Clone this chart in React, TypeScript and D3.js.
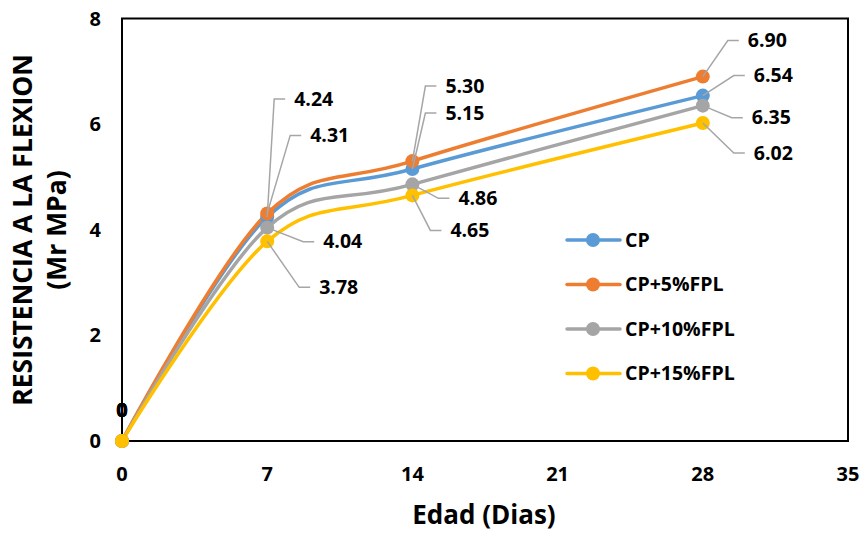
import React, { useEffect } from "react";
import * as d3 from "d3";

const days = [0, 7, 14, 28];
const seriesNames = ["CP", "CP+5%FPL", "CP+10%FPL", "CP+15%FPL"];
const cpValues = [0, 4.24, 5.15, 6.54];
const cp5Values = [0, 4.31, 5.3, 6.9];
const cp10Values = [0, 4.04, 4.86, 6.35];
const cp15Values = [0, 3.78, 4.65, 6.02];
const xTicks = [0, 7, 14, 21, 28, 35];
const yTicks = [0, 2, 4, 6, 8];
const colors = ["#5B9BD5", "#ED7D31", "#A5A5A5", "#FFC000"];

// label offsets (pixels, relative to the marker) for the non-zero points
const labelOffsets = [
  [null, [27, -118], [33, -56], [51, -20]],
  [null, [43, -78], [33, -75], [45, -36]],
  [null, [56, 14], [46, 14], [49, 12]],
  [null, [52, 46], [38, 35], [51, 30]],
];

const W = 862;
const H = 533;
const left = 122, right = 848, top = 18.5, bottom = 441;
const FONT = "'Open Sans', Lato, sans-serif";

export default function App() {
  useEffect(() => {
    document.body.style.margin = "0";
  }, []);
  const x = d3.scaleLinear().domain([0, 35]).range([left, right]);
  const y = d3.scaleLinear().domain([0, 8]).range([bottom, top]);
  const allValues = [cpValues, cp5Values, cp10Values, cp15Values];
  const line = d3
    .line<number>()
    .x((_, i) => x(days[i]))
    .y((d) => y(d))
    .curve(d3.curveCardinal.tension(0));

  return (
    <svg width={W} height={H} style={{ display: "block", fontFamily: FONT }}>
      <rect x={0} y={0} width={W} height={H} fill="#fff" />
      {/* plot frame */}
      <rect x={left} y={top} width={right - left} height={bottom - top} fill="none" stroke="#000" strokeWidth={2} />
      {/* y tick labels */}
      {yTicks.map((t) => (
        <text key={"y" + t} x={101} y={y(t)} dy="0.35em" textAnchor="end" fontSize={20} fontWeight={700} fill="#000">
          {t}
        </text>
      ))}
      {xTicks.map((t) => (
        <text key={"x" + t} x={x(t)} y={474} dy="0.35em" textAnchor="middle" fontSize={20} fontWeight={700} fill="#000">
          {t}
        </text>
      ))}
      {/* axis titles */}
      <text x={484} y={515} dy="0.35em" textAnchor="middle" fontSize={26} fontWeight={700} fill="#000">
        Edad (Dias)
      </text>
      <g transform={`translate(23, 230) rotate(-90)`}>
        <text x={0} y={0} dy="0.35em" textAnchor="middle" fontSize={26.5} fontWeight={700} fill="#000">
          RESISTENCIA A LA FLEXION
        </text>
        <text x={0} y={34} dy="0.35em" textAnchor="middle" fontSize={26.5} fontWeight={700} fill="#000">
          (Mr MPa)
        </text>
      </g>
      {/* zero labels */}
      {allValues.map((vals, s) => (
        <text key={"z" + s} x={x(days[0])} y={y(vals[0]) - 31} dy="0.35em" textAnchor="middle" fontSize={20} fontWeight={700} fill="#000">
          {vals[0]}
        </text>
      ))}
      {/* lines */}
      {allValues.map((vals, s) => (
        <path key={"l" + s} d={line(vals) || ""} fill="none" stroke={colors[s]} strokeWidth={3.5} strokeLinecap="round" />
      ))}
      {/* markers */}
      {allValues.map((vals, s) =>
        vals.map((v, i) => <circle key={"m" + s + "-" + i} cx={x(days[i])} cy={y(v)} r={7} fill={colors[s]} />)
      )}
      {/* leaders and labels */}
      {allValues.map((vals, s) =>
        vals.map((v, i) => {
          const off = labelOffsets[s][i];
          if (!off) return null;
          const px = x(days[i]);
          const py = y(v);
          const tx = px + off[0];
          const ty = py + off[1];
          return (
            <g key={"lb" + s + "-" + i}>
              <polyline
                points={`${px},${py} ${tx - 20},${ty} ${tx - 9},${ty}`}
                fill="none"
                stroke="#A6A6A6"
                strokeWidth={1.5}
              />
              <text x={tx} y={ty} dy="0.35em" fontSize={19.5} fontWeight={700} fill="#000">
                {v.toFixed(2)}
              </text>
            </g>
          );
        })
      )}
      {/* legend */}
      {seriesNames.map((n, s) => {
        const ly = 240 + s * 44.5;
        return (
          <g key={"lg" + s}>
            <line x1={567} x2={620} y1={ly} y2={ly} stroke={colors[s]} strokeWidth={3.5} strokeLinecap="round" />
            <circle cx={593} cy={ly} r={7} fill={colors[s]} />
            <text x={625} y={ly} dy="0.35em" fontSize={19.5} fontWeight={700} fill="#000">
              {n}
            </text>
          </g>
        );
      })}
    </svg>
  );
}
